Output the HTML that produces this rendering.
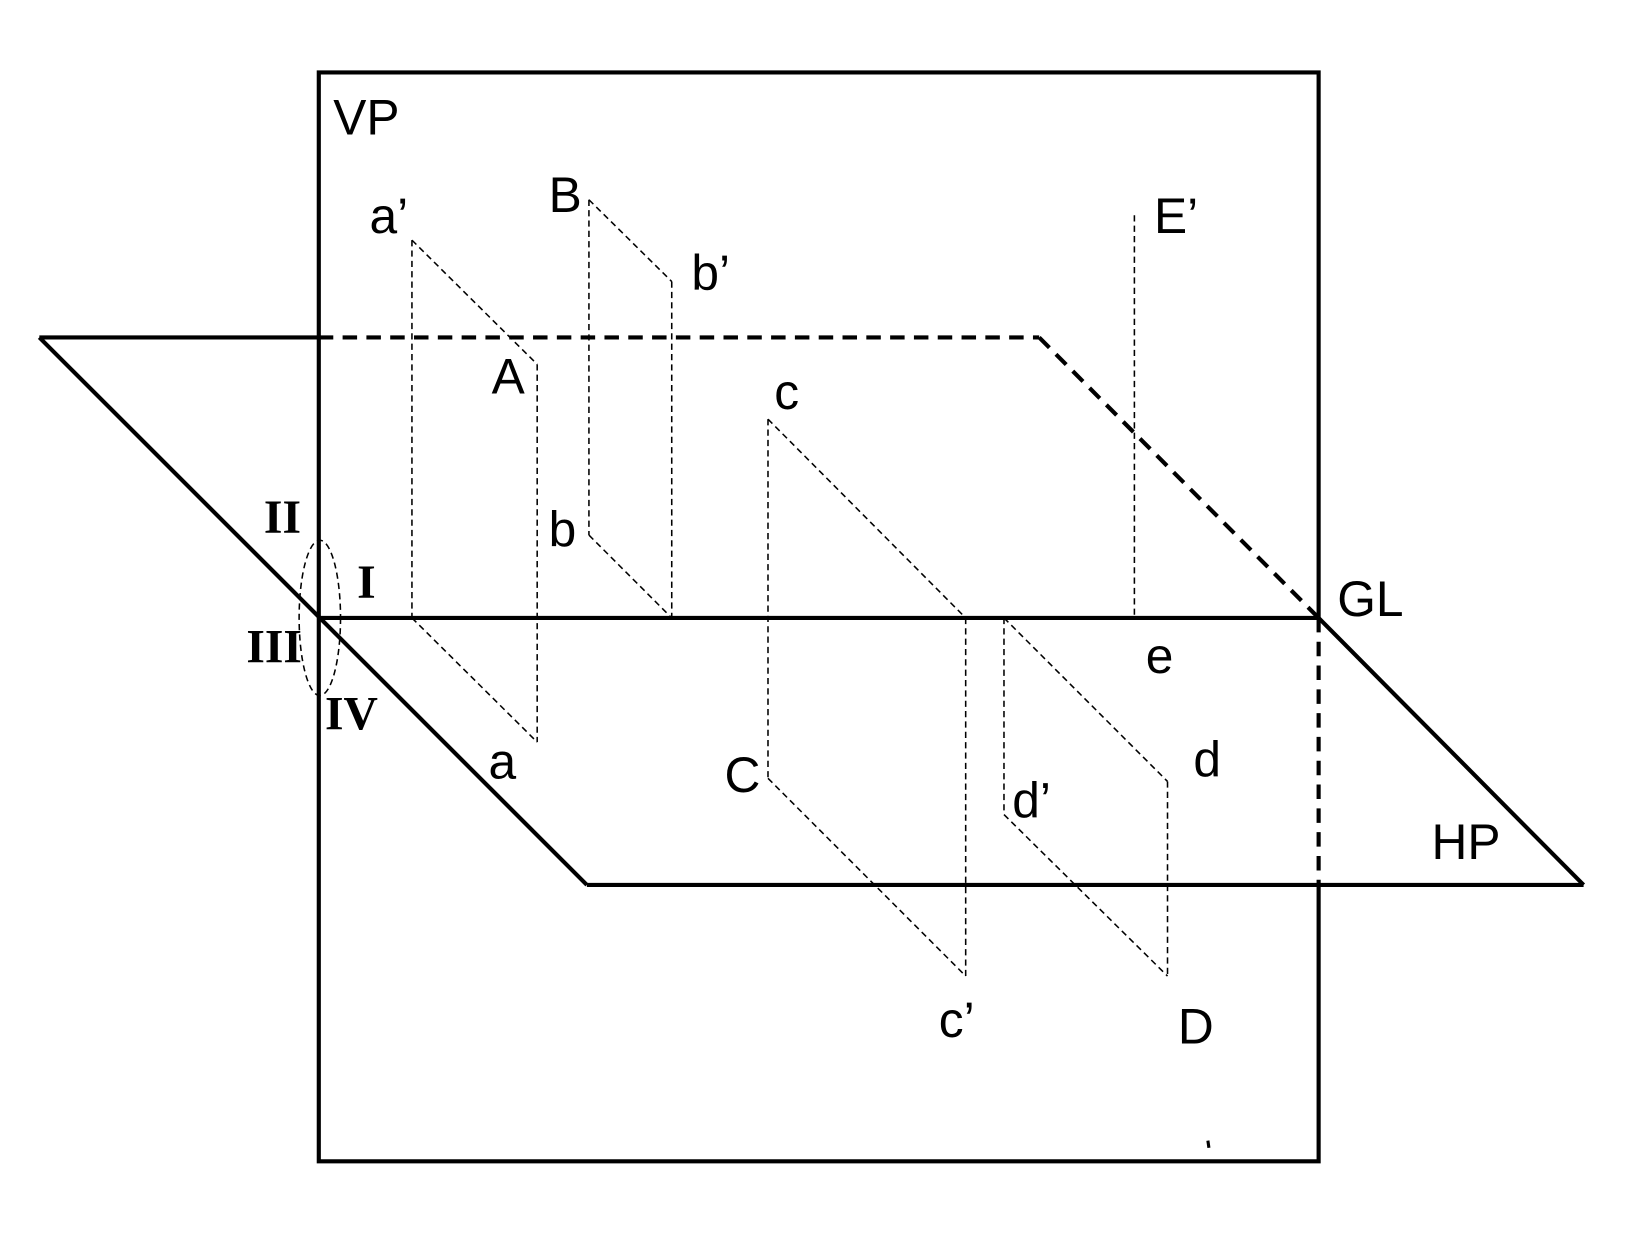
<!DOCTYPE html>
<html><head><style>
html,body{margin:0;padding:0;background:#fff;}
svg{display:block;}
text{font-family:"Liberation Sans",sans-serif;font-size:48px;fill:#000;}
.r{font-family:"Liberation Serif",serif;font-weight:bold;font-size:46px;}
</style></head><body>
<svg width="1625" height="1253" viewBox="0 0 1570 1210.6" xmlns="http://www.w3.org/2000/svg">
<g stroke="#000" stroke-width="4" fill="none">
<polyline points="308,597 308,70 1274,70 1274,597"/>
<polyline points="1274,855 1274,1122 308,1122 308,597"/>
<line x1="308" y1="597" x2="1274" y2="597"/>
<line x1="38" y1="326" x2="308" y2="326"/>
<line x1="38" y1="326" x2="567" y2="855"/>
<line x1="567" y1="855" x2="1530" y2="855"/>
<line x1="1274" y1="597" x2="1530" y2="855"/>
<g stroke-dasharray="14,9">
<line x1="308" y1="326" x2="1004" y2="326"/>
<line x1="1004" y1="326" x2="1274" y2="597"/>
<line x1="1274" y1="597" x2="1274" y2="855"/>
</g>
</g>
<g stroke="#000" stroke-width="1.5" fill="none" stroke-dasharray="6,4">
<line x1="398" y1="232" x2="398" y2="597"/>
<line x1="398" y1="232" x2="519" y2="352"/>
<line x1="519" y1="352" x2="519" y2="717"/>
<line x1="398" y1="597" x2="519" y2="717"/>
<line x1="569" y1="193" x2="649" y2="272"/>
<line x1="569" y1="193" x2="569" y2="517"/>
<line x1="649" y1="272" x2="649" y2="597"/>
<line x1="569" y1="517" x2="649" y2="597"/>
<line x1="742" y1="405" x2="933" y2="597"/>
<line x1="742" y1="405" x2="742" y2="752"/>
<line x1="742" y1="752" x2="933" y2="943"/>
<line x1="933" y1="597" x2="933" y2="943"/>
<line x1="970" y1="597" x2="1128" y2="755"/>
<line x1="970" y1="597" x2="970" y2="787"/>
<line x1="970" y1="787" x2="1128" y2="943"/>
<line x1="1128" y1="755" x2="1128" y2="943"/>
<line x1="1096" y1="208" x2="1096" y2="597"/>
<ellipse cx="309" cy="597" rx="20" ry="75"/>
</g>
<text x="322" y="130">VP</text>
<text x="357" y="225">a’</text>
<text x="530" y="205">B</text>
<text x="668" y="280">b’</text>
<text x="1115" y="225">E’</text>
<text x="475" y="380">A</text>
<text x="748" y="395">c</text>
<text x="530" y="528">b</text>
<text x="1292" y="595">GL</text>
<text x="1107" y="650">e</text>
<text x="472" y="752">a</text>
<text x="1153" y="750">d</text>
<text x="700" y="765">C</text>
<text x="978" y="790">d’</text>
<text x="1383" y="830">HP</text>
<text x="907" y="1002">c’</text>
<text x="1138" y="1008">D</text>
<text class="r" x="255" y="515">II</text>
<text class="r" x="345" y="578">I</text>
<text class="r" x="238" y="640">III</text>
<text class="r" x="314" y="705">IV</text>
<line x1="1167" y1="1102" x2="1168" y2="1109" stroke="#000" stroke-width="3"/>
</svg>
</body></html>
